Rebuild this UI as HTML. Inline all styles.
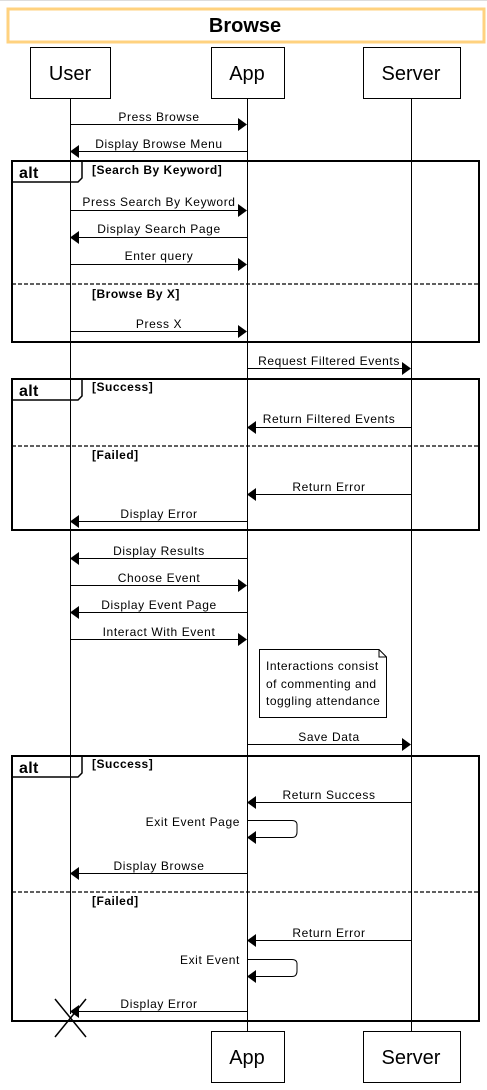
<!DOCTYPE html>
<html><head><meta charset="utf-8"><style>
html,body{margin:0;padding:0;background:#fff;}
svg{display:block;font-family:"Liberation Sans",Arial,sans-serif;}
.l{font-size:12px;text-anchor:middle;letter-spacing:0.6px;}
.p{font-size:20px;text-anchor:middle;}
.g{font-size:12px;font-weight:bold;letter-spacing:0.5px;}
</style></head><body>
<svg width="487" height="1090" viewBox="0 0 487 1090" xmlns="http://www.w3.org/2000/svg">
<line x1="0" y1="0.5" x2="487" y2="0.5" stroke="#ddd"/>
<rect x="8" y="9" width="476" height="33" fill="#fff" stroke="#FFD27F" stroke-width="3"/>
<text x="245" y="32" font-size="20" font-weight="bold" text-anchor="middle">Browse</text>

<g stroke="#000" stroke-width="1">
<line x1="70.5" y1="98" x2="70.5" y2="1014"/>
<line x1="247.5" y1="98" x2="247.5" y2="1031"/>
<line x1="411.5" y1="98" x2="411.5" y2="1031"/>
</g>
<g fill="#fff" stroke="#000">
<rect x="30.5" y="47.5" width="80" height="51"/>
<rect x="211.5" y="47.5" width="73" height="51"/>
<rect x="363.5" y="47.5" width="97" height="51"/>
<rect x="211.5" y="1031.5" width="73" height="51"/>
<rect x="363.5" y="1031.5" width="97" height="51"/>
</g>
<text class="p" x="70" y="80">User</text>
<text class="p" x="247" y="80">App</text>
<text class="p" x="411" y="80">Server</text>
<text class="p" x="247" y="1064">App</text>
<text class="p" x="411" y="1064">Server</text>

<g fill="none" stroke="#000" stroke-width="2">
<rect x="12" y="161" width="467" height="181"/>
<rect x="12" y="379" width="467" height="151"/>
<rect x="12" y="756" width="467" height="265"/>
</g>
<g fill="none" stroke="#000" stroke-width="1.2" stroke-dasharray="4,2">
<line x1="12" y1="284" x2="479" y2="284"/>
<line x1="12" y1="446" x2="479" y2="446"/>
<line x1="12" y1="892" x2="479" y2="892"/>
</g>
<g fill="none" stroke="#000" stroke-width="1.5">
<path d="M12 182 H78 L82 178 V161"/>
<path d="M12 400 H78 L82 396 V379"/>
<path d="M12 777 H78 L82 773 V756"/>
</g>
<g font-size="16" font-weight="bold" letter-spacing="0.3">
<text x="19" y="178">alt</text>
<text x="19" y="396">alt</text>
<text x="19" y="773">alt</text>
</g>
<g class="g">
<text x="92" y="174">[Search By Keyword]</text>
<text x="92" y="298">[Browse By X]</text>
<text x="92" y="391">[Success]</text>
<text x="92" y="459">[Failed]</text>
<text x="92" y="768">[Success]</text>
<text x="92" y="905">[Failed]</text>
</g>

<g stroke="#000" stroke-width="1">
<line x1="70" y1="124.5" x2="240" y2="124.5"/>
<line x1="78" y1="151.5" x2="247" y2="151.5"/>
<line x1="70" y1="210.5" x2="240" y2="210.5"/>
<line x1="78" y1="237.5" x2="247" y2="237.5"/>
<line x1="70" y1="264.5" x2="240" y2="264.5"/>
<line x1="70" y1="331.5" x2="240" y2="331.5"/>
<line x1="247" y1="368.5" x2="404" y2="368.5"/>
<line x1="255" y1="427.5" x2="411" y2="427.5"/>
<line x1="255" y1="494.5" x2="411" y2="494.5"/>
<line x1="78" y1="521.5" x2="247" y2="521.5"/>
<line x1="78" y1="558.5" x2="247" y2="558.5"/>
<line x1="70" y1="585.5" x2="240" y2="585.5"/>
<line x1="78" y1="612.5" x2="247" y2="612.5"/>
<line x1="70" y1="639.5" x2="240" y2="639.5"/>
<line x1="247" y1="744.5" x2="404" y2="744.5"/>
<line x1="255" y1="802.5" x2="411" y2="802.5"/>
<line x1="78" y1="873.5" x2="247" y2="873.5"/>
<line x1="255" y1="940.5" x2="411" y2="940.5"/>
<line x1="78" y1="1011.5" x2="247" y2="1011.5"/>
</g>
<g fill="none" stroke="#000">
<path d="M247 820.5 H292 Q297 820.5 297 825 V832 Q297 837.5 292 837.5 H255"/>
<path d="M247 959.5 H292 Q297 959.5 297 964 V971 Q297 976.5 292 976.5 H255"/>
</g>
<g fill="#000">
<polygon points="247,124.5 238,118 238,131"/>
<polygon points="70,151.5 79,145 79,158"/>
<polygon points="247,210.5 238,204 238,217"/>
<polygon points="70,237.5 79,231 79,244"/>
<polygon points="247,264.5 238,258 238,271"/>
<polygon points="247,331.5 238,325 238,338"/>
<polygon points="411,368.5 402,362 402,375"/>
<polygon points="247,427.5 256,421 256,434"/>
<polygon points="247,494.5 256,488 256,501"/>
<polygon points="70,521.5 79,515 79,528"/>
<polygon points="70,558.5 79,552 79,565"/>
<polygon points="247,585.5 238,579 238,592"/>
<polygon points="70,612.5 79,606 79,619"/>
<polygon points="247,639.5 238,633 238,646"/>
<polygon points="411,744.5 402,738 402,751"/>
<polygon points="247,802.5 256,796 256,809"/>
<polygon points="247,837.5 256,831 256,844"/>
<polygon points="70,873.5 79,867 79,880"/>
<polygon points="247,940.5 256,934 256,947"/>
<polygon points="247,976.5 256,970 256,983"/>
<polygon points="70,1011.5 79,1005 79,1018"/>
</g>
<g stroke="#000" stroke-width="1.5">
<line x1="55" y1="999" x2="86" y2="1037"/>
<line x1="86" y1="999" x2="55" y2="1037"/>
</g>

<g class="l">
<text x="159" y="121">Press Browse</text>
<text x="159" y="148">Display Browse Menu</text>
<text x="159" y="206">Press Search By Keyword</text>
<text x="159" y="233">Display Search Page</text>
<text x="159" y="260">Enter query</text>
<text x="159" y="328">Press X</text>
<text x="329" y="365">Request Filtered Events</text>
<text x="329" y="423">Return Filtered Events</text>
<text x="329" y="491">Return Error</text>
<text x="159" y="518">Display Error</text>
<text x="159" y="555">Display Results</text>
<text x="159" y="582">Choose Event</text>
<text x="159" y="609">Display Event Page</text>
<text x="159" y="636">Interact With Event</text>
<text x="329" y="741">Save Data</text>
<text x="329" y="799">Return Success</text>
<text x="159" y="870">Display Browse</text>
<text x="329" y="937">Return Error</text>
<text x="159" y="1008">Display Error</text>
</g>
<g font-size="12" text-anchor="end" letter-spacing="0.6">
<text x="240" y="826">Exit Event Page</text>
<text x="240" y="964">Exit Event</text>
</g>

<path d="M259.5 649.5 H379 L386.5 657 V717.5 H259.5 Z" fill="#fff" stroke="#000"/>
<path d="M379 649.5 V657 H386.5" fill="none" stroke="#000"/>
<g font-size="12" letter-spacing="0.5">
<text x="266" y="670">Interactions consist</text>
<text x="266" y="688">of commenting and</text>
<text x="266" y="705">toggling attendance</text>
</g>
</svg>
</body></html>
